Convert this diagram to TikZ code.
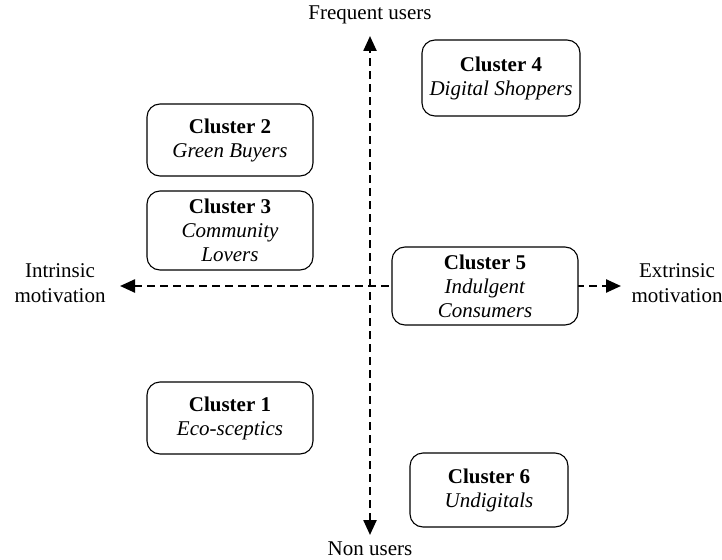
\documentclass[tikz,border=0pt]{standalone}
\usepackage{fontspec}
\setmainfont{Liberation Serif}
\usetikzlibrary{arrows.meta}
\begin{document}
\begin{tikzpicture}[x=1pt,y=-1pt,
  cbox/.style={draw, line width=1.1pt, rounded corners=13pt, fill=white, align=center, inner sep=0pt,
    font=\fontsize{21}{24}\selectfont},
  axis/.style={line width=2.4pt, dash pattern=on 8pt off 5pt, {Triangle[length=15pt,width=13pt]}-{Triangle[length=15pt,width=13pt]}},
  lab/.style={align=center, inner sep=0pt, font=\fontsize{21}{25}\selectfont}]
\useasboundingbox (0,0) rectangle (722,559);
\coordinate (top) at (370,36);
\coordinate (bot) at (370,535);
\coordinate (lft) at (120,286);
\coordinate (rgt) at (621,286);
\draw[axis] (bot) -- (top);
\draw[axis] (lft) -- (rgt);
\node[lab] (fu) at (370,15) {Frequent users};
\node[lab] (nu) at (370,549) {Non users};
\node[lab] (im) at (60,283) {Intrinsic\\motivation};
\node[lab] (em) at (677,283) {Extrinsic\\motivation};
\node[cbox, minimum width=158pt, minimum height=76pt] (c4) at (501,78) {\textbf{Cluster 4}\\\textit{Digital Shoppers}};
\node[cbox, minimum width=166pt, minimum height=72pt] (c2) at (230,140) {\textbf{Cluster 2}\\\textit{Green Buyers}};
\node[cbox, minimum width=166pt, minimum height=79pt] (c3) at (230,230.5) {\textbf{Cluster 3}\\\textit{Community}\\\textit{Lovers}};
\node[cbox, minimum width=186pt, minimum height=78pt] (c5) at (485,286) {\textbf{Cluster 5}\\\textit{Indulgent}\\\textit{Consumers}};
\node[cbox, minimum width=166pt, minimum height=72pt] (c1) at (230,418) {\textbf{Cluster 1}\\\textit{Eco-sceptics}};
\node[cbox, minimum width=158pt, minimum height=74pt] (c6) at (489,490) {\textbf{Cluster 6}\\\textit{Undigitals}};
\end{tikzpicture}
\end{document}
